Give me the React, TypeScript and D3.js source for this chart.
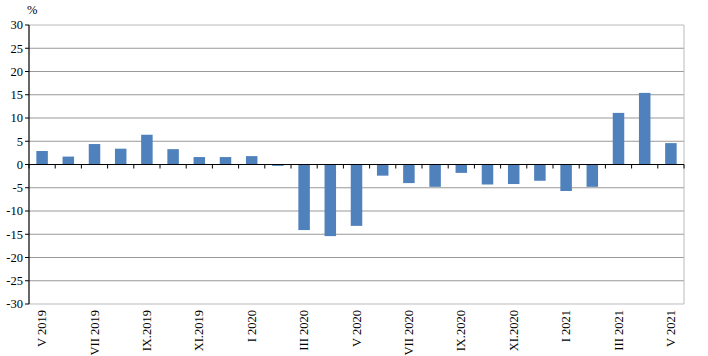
import React from "react";
import * as d3 from "d3";

const categories = [
  "V 2019", "VI 2019", "VII 2019", "VIII 2019", "IX.2019", "X 2019", "XI.2019", "XII 2019",
  "I 2020", "II 2020", "III 2020", "IV 2020", "V 2020", "VI 2020", "VII 2020", "VIII 2020",
  "IX.2020", "X 2020", "XI.2020", "XII 2020", "I 2021", "II 2021", "III 2021", "IV 2021", "V 2021",
];
const values = [
  2.9, 1.7, 4.4, 3.4, 6.4, 3.3, 1.6, 1.6, 1.8, -0.3, -14.1, -15.4, -13.2, -2.4, -4.0, -4.8,
  -1.8, -4.3, -4.2, -3.5, -5.7, -4.8, 11.1, 15.4, 4.6,
];
const yTicks = [30, 25, 20, 15, 10, 5, 0, -5, -10, -15, -20, -25, -30];

const W = 708, H = 356;
const left = 29, right = 684, top = 25, bottom = 304;

export default function App() {
  const x = d3.scaleBand<number>().domain(d3.range(categories.length)).range([left, right]).paddingInner(0).paddingOuter(0);
  const y = d3.scaleLinear().domain([-30, 30]).range([bottom, top]);
  const bw = 11.5;
  const font = "'Liberation Serif', 'Times New Roman', serif";
  return (
    <svg width={W} height={H} style={{ position: "absolute", left: 0, top: 0 }} fontFamily={font}>
      <rect width={W} height={H} fill="#fff" />
      {yTicks.map((t) => t !== 0 && (
        <line key={"g" + t} x1={left} x2={right} y1={y(t)} y2={y(t)} stroke={t === 30 || t === -30 ? "#bbb" : "#999"} strokeWidth={1} />
      ))}
      <line x1={right} x2={right} y1={top} y2={bottom} stroke="#bbb" />
      {values.map((v, i) => (
        <rect key={i} x={x(i)! + x.bandwidth() / 2 - bw / 2} width={bw}
          y={Math.min(y(v), y(0))} height={Math.abs(y(v) - y(0))} fill="#4f81bd" />
      ))}
      <line x1={left} x2={right} y1={y(0)} y2={y(0)} stroke="#000" strokeWidth={1.2} />
      {d3.range(categories.length + 1).map((i) => {
        const xx = left + i * x.bandwidth();
        return <line key={"xt" + i} x1={xx} x2={xx} y1={y(0)} y2={y(0) + 4} stroke="#000" />;
      })}
      <line x1={left} x2={left} y1={top} y2={bottom} stroke="#000" strokeWidth={1.2} />
      {yTicks.map((t) => (
        <g key={"yt" + t}>
          <line x1={left - 4} x2={left} y1={y(t)} y2={y(t)} stroke="#000" />
          <text x={left - 6} y={y(t)} dy="0.35em" textAnchor="end" fontSize={12.5} fill="#000">{t}</text>
        </g>
      ))}
      <text x={27} y={14} fontSize={12.5} fill="#000">%</text>
      {categories.map((c, i) => i % 2 === 0 && (
        <text key={"xl" + i} transform={`translate(${x(i)! + x.bandwidth() / 2 + 4},${bottom + 6}) rotate(-90)`}
          textAnchor="end" fontSize={12.5} fill="#000">{c}</text>
      ))}
    </svg>
  );
}
